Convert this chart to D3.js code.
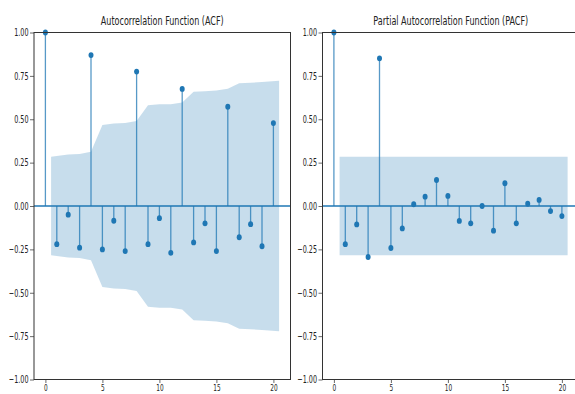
<!DOCTYPE html>
<html>
<head>
<meta charset="utf-8">
<script src="https://cdn.jsdelivr.net/npm/d3@7"></script>
<style>
  body { margin: 0; background: #fff; }
  text { font-family: "DejaVu Sans Condensed", "DejaVu Sans", sans-serif; fill: #222; }
</style>
</head>
<body>
<svg id="chart" width="575" height="394"></svg>
<script>
// lags 0..20
const lags = d3.range(0, 21)

// autocorrelation
const acfValues = [1.0, -0.22, -0.05, -0.24, 0.87, -0.25, -0.085, -0.26, 0.775, -0.22,
  -0.07, -0.27, 0.675, -0.21, -0.10, -0.26, 0.572, -0.18, -0.105, -0.232, 0.478]
// upper edge of the confidence band, lags 1..20 (band is symmetric)
const acfConf = [0.284, 0.297, 0.300, 0.313, 0.467, 0.476, 0.478, 0.49, 0.58, 0.586,
  0.587, 0.596, 0.659, 0.661, 0.665, 0.676, 0.707, 0.71, 0.715, 0.722]

// partial autocorrelation
const pacfValues = [1.0, -0.22, -0.106, -0.294, 0.851, -0.242, -0.129, 0.01, 0.054, 0.15,
  0.058, -0.086, -0.10, 0.0, -0.142, 0.131, -0.10, 0.013, 0.035, -0.029, -0.058]
const pacfConf = [0.284, 0.284, 0.284, 0.284, 0.284, 0.284, 0.284, 0.284, 0.284, 0.284,
  0.284, 0.284, 0.284, 0.284, 0.284, 0.284, 0.284, 0.284, 0.284, 0.284]

const xTicks = [0, 5, 10, 15, 20]
const yTicks = [-1.0, -0.75, -0.5, -0.25, 0, 0.25, 0.5, 0.75, 1.0]

const titles = ["Autocorrelation Function (ACF)", "Partial Autocorrelation Function (PACF)"]

const blue = "#1f77b4"
const svg = d3.select("#chart")

// the source image is squeezed sideways, so text is narrowed to match
const squeeze = 0.68

const panels = [
  { left: 34, values: acfValues, conf: acfConf, title: titles[0] },
  { left: 322.5, values: pacfValues, conf: pacfConf, title: titles[1] }
]

const plotTop = 32.5, plotH = 347, plotW = 256.5

panels.forEach(p => {
  const g = svg.append("g").attr("transform", `translate(${p.left},${plotTop})`)

  const x = d3.scaleLinear().domain([-1, 21.5]).range([0, plotW])
  const y = d3.scaleLinear().domain([-1, 1]).range([plotH, 0])

  // confidence band, first/last lag pushed out by half a step
  const band = lags.slice(1).map((l, i) => ({ lag: l, c: p.conf[i] }))
  band[0] = { lag: band[0].lag - 0.5, c: band[0].c }
  band[band.length - 1] = { lag: band[band.length - 1].lag + 0.5, c: band[band.length - 1].c }

  g.append("path")
    .datum(band)
    .attr("fill", blue)
    .attr("fill-opacity", 0.25)
    .attr("d", d3.area().x(d => x(d.lag)).y0(d => y(-d.c)).y1(d => y(d.c)))

  // zero line
  g.append("line")
    .attr("x1", 0).attr("x2", plotW)
    .attr("y1", y(0)).attr("y2", y(0))
    .attr("stroke", blue).attr("stroke-width", 1.6)

  // stems
  g.selectAll(".stem")
    .data(lags)
    .enter().append("line")
    .attr("class", "stem")
    .attr("x1", d => x(d)).attr("x2", d => x(d))
    .attr("y1", y(0)).attr("y2", d => y(p.values[d]))
    .attr("stroke", blue).attr("stroke-opacity", 0.75).attr("stroke-width", 1.3)

  g.selectAll(".dot")
    .data(lags)
    .enter().append("ellipse")
    .attr("class", "dot")
    .attr("cx", d => x(d))
    .attr("cy", d => y(p.values[d]))
    .attr("rx", 2.5).attr("ry", 2.9)
    .attr("fill", blue)

  // axes
  const yAxis = g.append("g")
    .call(d3.axisLeft(y).tickValues(yTicks).tickSize(4).tickPadding(2)
      .tickFormat(d => d3.format(".2f")(d).replace("-", "\u2212")))
  const xAxis = g.append("g")
    .attr("transform", `translate(0,${plotH})`)
    .call(d3.axisBottom(x).tickValues(xTicks).tickSize(3.5).tickPadding(1.5))

  ;[xAxis, yAxis].forEach(a => {
    a.select(".domain").remove()
    a.selectAll("line").attr("stroke", "#444").attr("stroke-width", 0.8)
    a.selectAll("text").attr("font-size", 10.5).attr("fill", "#333")
  })
  yAxis.selectAll("text").attr("x", 0)
    .attr("transform", `translate(-5.5,0) scale(${squeeze},1)`)
  xAxis.selectAll("text").attr("font-size", 9.5)
    .attr("transform", `scale(${squeeze},1)`)

  // spines
  g.append("rect")
    .attr("width", plotW).attr("height", plotH)
    .attr("fill", "none").attr("stroke", "#333").attr("stroke-width", 1)

  // title, narrowed the same way as the tick labels
  g.append("text")
    .attr("transform", `translate(${plotW / 2},-7.5) scale(0.715,1)`)
    .attr("text-anchor", "middle")
    .attr("font-size", 12.5)
    .text(p.title)
})
</script>
</body>
</html>
